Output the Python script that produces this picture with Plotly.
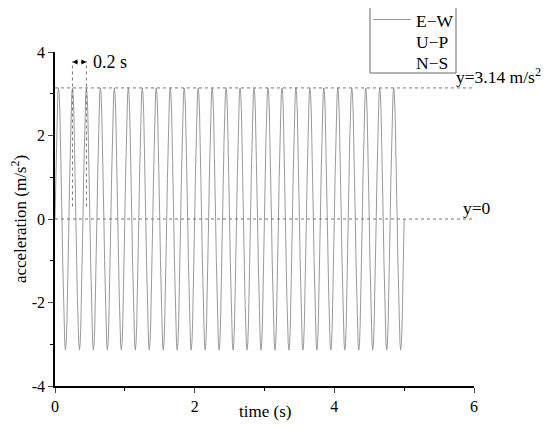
import plotly.graph_objects as go

# one period of the E-W acceleration signal, sampled every 0.01 s (m/s^2)
period_values = [0.0, 0.97, 1.85, 2.54, 2.99, 3.14, 2.99, 2.54, 1.85, 0.97,
                 0.0, -0.97, -1.85, -2.54, -2.99, -3.14, -2.99, -2.54, -1.85, -0.97]
sample_step = 0.01
n_periods = 25
legend_names = ["E\u2212W", "U\u2212P", "N\u2212S"]
x_ticks = [0, 2, 4, 6]
x_labels = ["0", "2", "4", "6"]
y_ticks = [-4, -2, 0, 2, 4]
y_labels = ["-4", "-2", "0", "2", "4"]

acc = period_values * n_periods + [0.0]
t = [round(i * sample_step, 4) for i in range(len(acc))]

FONT = "Liberation Serif"
LINE_COLOR = "#9a9a9a"
W, H = 550, 429
OFF = 8  # page offset of the figure inside the browser window
# target plot area in window pixels
win_l, win_r, win_t, win_b = 55, 474, 52, 386
L, R, T = win_l - OFF, 5, 0
B = H - (win_b - OFF)
xdom = (win_r - win_l) / (W - L - R)
ydom = (win_b - win_t) / (H - B - T)


def px(xw):  # window x -> paper fraction
    return (xw - win_l) / (W - L - R)


def py(yw):  # window y -> paper fraction
    return (win_b - yw) / (H - B - T)


fig = go.Figure()
fig.add_trace(go.Scatter(x=t, y=acc, mode="lines", name=legend_names[0],
                         line=dict(color=LINE_COLOR, width=1), showlegend=False))

# reference lines
fig.add_shape(type="line", x0=0, x1=6, y0=3.14, y1=3.14,
              line=dict(color="#777", width=1, dash="dot"))
fig.add_shape(type="line", x0=0, x1=6, y0=0, y1=0,
              line=dict(color="#777", width=1, dash="dot"))
fig.add_shape(type="line", x0=0.25, x1=0.25, y0=0.3, y1=3.78,
              line=dict(color="#777", width=1, dash="dot"))
fig.add_shape(type="line", x0=0.45, x1=0.45, y0=0.3, y1=3.78,
              line=dict(color="#777", width=1, dash="dot"))

for xh in [0.25, 0.45]:
    fig.add_annotation(x=xh, y=3.76, ax=0.35, ay=3.76, axref="x", ayref="y",
                       xref="x", yref="y", text="", showarrow=True,
                       arrowhead=2, arrowsize=1, arrowwidth=1, arrowcolor="black")

fig.add_annotation(x=0.51, y=3.76, xref="x", yref="y", text="0.2 s", showarrow=False,
                   xanchor="left", font=dict(family=FONT, size=18, color="black"))
fig.add_annotation(x=5.72, y=3.14, xref="x", yref="y", text="y=3.14 m/s<sup>2</sup>",
                   showarrow=False, xanchor="left", yanchor="bottom", yshift=-1,
                   font=dict(family=FONT, size=17.5, color="black"))
fig.add_annotation(x=5.81, y=0, xref="x", yref="y", text="y=0",
                   showarrow=False, xanchor="left", yanchor="bottom", yshift=-1,
                   font=dict(family=FONT, size=17.5, color="black"))
# x-axis title
fig.add_annotation(x=xdom / 2, y=0, xref="paper", yref="paper", text="time (s)",
                   showarrow=False, xanchor="center", yanchor="middle", yshift=-25,
                   font=dict(family=FONT, size=17, color="black"))

# legend box (drawn in paper space)
fig.add_shape(type="rect", xref="paper", yref="paper",
              x0=px(370), x1=px(456), y0=py(73), y1=py(7),
              line=dict(color="#666", width=1), fillcolor="white", layer="above")
fig.add_shape(type="line", xref="paper", yref="paper",
              x0=px(373), x1=px(411), y0=py(19.5), y1=py(19.5),
              line=dict(color=LINE_COLOR, width=1), layer="above")
for i, nm in enumerate(legend_names):
    fig.add_annotation(x=px(414), y=py(21 + 21 * i), xref="paper", yref="paper",
                       text=nm, showarrow=False, xanchor="left", yanchor="middle",
                       font=dict(family=FONT, size=17.5, color="black"))

fig.update_layout(
    width=W, height=H,
    margin=dict(l=L, r=R, t=T, b=B),
    paper_bgcolor="white", plot_bgcolor="white",
    font=dict(family=FONT, size=16, color="black"),
    showlegend=False,
)
fig.update_xaxes(domain=[0, xdom], range=[0, 6], tickvals=x_ticks, ticktext=x_labels,
                 ticks="outside", ticklen=5, automargin=False,
                 tickwidth=1.2, showline=True, linecolor="black", linewidth=1.5,
                 showgrid=False, zeroline=False, tickfont=dict(size=16),
                 minor=dict(dtick=1, ticks="outside", ticklen=3, tickcolor="black"))
fig.update_yaxes(domain=[0, ydom], range=[-4, 4], tickvals=y_ticks, ticktext=y_labels,
                 ticks="outside", ticklen=5, automargin=False,
                 tickwidth=1.2, showline=True, linecolor="black", linewidth=1.5,
                 showgrid=False, zeroline=False, tickfont=dict(size=16),
                 minor=dict(dtick=1, ticks="outside", ticklen=3, tickcolor="black"),
                 title=dict(text="acceleration (m/s<sup>2</sup>)", font=dict(family=FONT, size=17), standoff=6))

fig.write_html("out.html")
